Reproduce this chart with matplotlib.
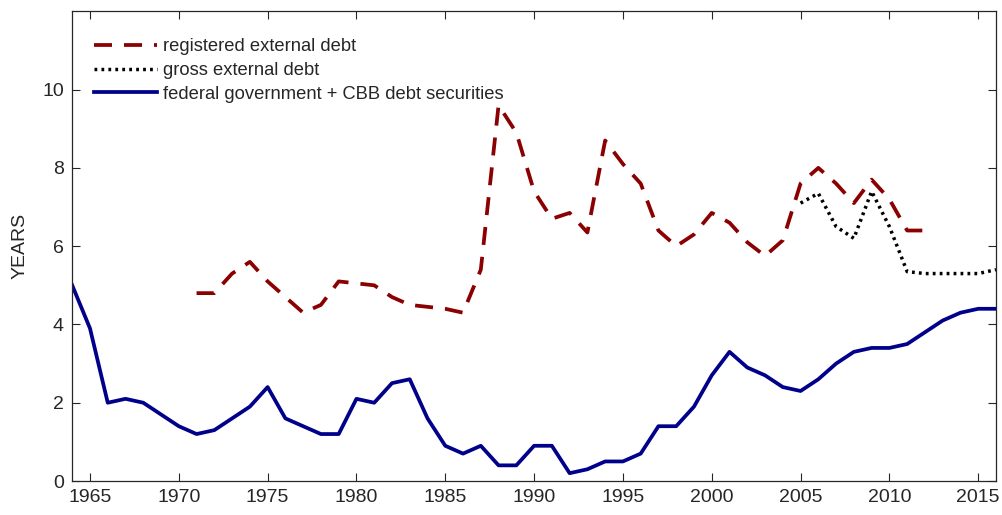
import matplotlib
matplotlib.use('Agg')
import matplotlib.pyplot as plt

# federal government + CBB debt securities, 1964-2016
fed_years = list(range(1964, 2017))
fed_vals = [5.0, 3.9, 2.0, 2.1, 2.0, 1.7, 1.4, 1.2, 1.3, 1.6,
            1.9, 2.4, 1.6, 1.4, 1.2, 1.2, 2.1, 2.0, 2.5, 2.6,
            1.6, 0.9, 0.7, 0.9, 0.4, 0.4, 0.9, 0.9, 0.2, 0.3,
            0.5, 0.5, 0.7, 1.4, 1.4, 1.9, 2.7, 3.3, 2.9, 2.7,
            2.4, 2.3, 2.6, 3.0, 3.3, 3.4, 3.4, 3.5, 3.8, 4.1,
            4.3, 4.4, 4.4]

# registered external debt, 1971-2012
reg_years = list(range(1971, 2013))
reg_vals = [4.8, 4.8, 5.3, 5.6, 5.1, 4.7, 4.3, 4.5, 5.1, 5.05,
            5.0, 4.7, 4.5, 4.45, 4.4, 4.3, 5.4, 9.6, 8.9, 7.4,
            6.7, 6.85, 6.35, 8.7, 8.1, 7.6, 6.4, 6.0, 6.3, 6.85,
            6.6, 6.1, 5.75, 6.15, 7.6, 8.0, 7.6, 7.1, 7.7, 7.2,
            6.4, 6.4]

# gross external debt, 2005-2016
gross_years = list(range(2005, 2017))
gross_vals = [7.1, 7.35, 6.5, 6.2, 7.4, 6.5, 5.35, 5.3, 5.3, 5.3, 5.3, 5.4]

x_ticks = [1965, 1970, 1975, 1980, 1985, 1990, 1995, 2000, 2005, 2010, 2015]
y_ticks = [0, 2, 4, 6, 8, 10]

plt.rcParams['font.family'] = ['Liberation Sans', 'DejaVu Sans']

fig = plt.figure(figsize=(10.03, 5.15), dpi=100)
ax = fig.add_axes([0.072, 0.066, 0.921, 0.912])

ax.plot(reg_years, reg_vals, color='#8b0000', linewidth=2.7,
        linestyle=(0, (4.8, 3.2)), label='registered external debt')
ax.plot(gross_years, gross_vals, color='black', linewidth=2.5,
        linestyle=(0, (0.8, 1.2)), label='gross external debt')
ax.plot(fed_years, fed_vals, color='#00008b', linewidth=2.7,
        label='federal government + CBB debt securities')

ax.set_xlim(1964, 2016)
ax.set_ylim(0, 12)
ax.set_xticks(x_ticks)
ax.set_yticks(y_ticks)
ax.tick_params(direction='in', top=True, right=True, length=6,
               width=0.8, colors='#262626', labelsize=14, pad=6)
for s in ax.spines.values():
    s.set_color('#262626')
    s.set_linewidth(0.9)
ax.set_ylabel('YEARS', fontsize=14, color='#262626', labelpad=10)

leg = ax.legend(loc='upper left', frameon=False, fontsize=13.2,
                handlelength=3.45, handletextpad=0.3, labelspacing=0.36,
                borderaxespad=0.0, bbox_to_anchor=(0.0155, 0.958))
for t in leg.get_texts():
    t.set_color('#262626')

fig.savefig('out.png', dpi=100)
